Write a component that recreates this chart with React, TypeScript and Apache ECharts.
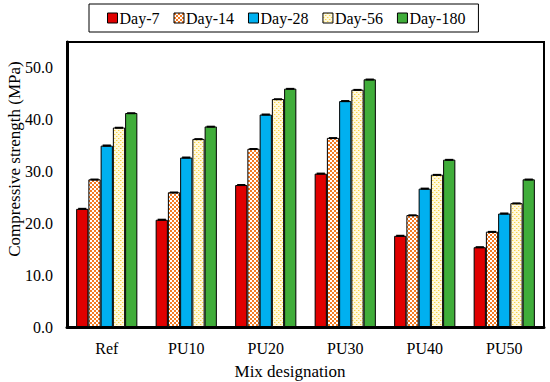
import React, { useEffect, useRef } from "react";
import * as echarts from "echarts";

const categories = ["Ref", "PU10", "PU20", "PU30", "PU40", "PU50"];
const seriesNames = ["Day-7", "Day-14", "Day-28", "Day-56", "Day-180"];
const day7 = [22.8, 20.7, 27.4, 29.6, 17.6, 15.4];
const day14 = [28.5, 26.0, 34.4, 36.5, 21.6, 18.4];
const day28 = [35.0, 32.7, 41.0, 43.6, 26.7, 21.9];
const day56 = [38.5, 36.3, 44.0, 45.8, 29.4, 23.9];
const day180 = [41.3, 38.7, 46.0, 47.8, 32.3, 28.5];
const err7 = [0.2, 0.2, 0.2, 0.2, 0.2, 0.2];
const err14 = [0.15, 0.15, 0.15, 0.15, 0.15, 0.15];
const err28 = [0.2, 0.2, 0.2, 0.2, 0.2, 0.2];
const err56 = [0.15, 0.15, 0.15, 0.15, 0.15, 0.15];
const err180 = [0.15, 0.15, 0.15, 0.15, 0.15, 0.15];
const yTicks = [0, 10, 20, 30, 40, 50];
const yTitle = "Compressive strength (MPa)";
const xTitle = "Mix designation";

const FONT = "Liberation Serif";
const GAP = 0.23;

function makeChecker(): HTMLCanvasElement {
  const c = document.createElement("canvas");
  c.width = 4;
  c.height = 4;
  const ctx = c.getContext("2d")!;
  ctx.fillStyle = "#ffffff";
  ctx.fillRect(0, 0, 4, 4);
  ctx.fillStyle = "#f47a22";
  ctx.fillRect(0, 0, 2, 2);
  ctx.fillRect(2, 2, 2, 2);
  return c;
}

function makeDots(): HTMLCanvasElement {
  const c = document.createElement("canvas");
  c.width = 4;
  c.height = 4;
  const ctx = c.getContext("2d")!;
  ctx.fillStyle = "#fff9dc";
  ctx.fillRect(0, 0, 4, 4);
  ctx.fillStyle = "#f7d34a";
  ctx.fillRect(0, 0, 1, 1);
  ctx.fillRect(2, 2, 1, 1);
  ctx.fillStyle = "#fbe9a0";
  ctx.fillRect(1, 0, 1, 1);
  ctx.fillRect(3, 2, 1, 1);
  return c;
}

export default function App() {
  const ref = useRef<HTMLDivElement>(null);
  useEffect(() => {
    if (!ref.current) return;
    const chart = echarts.init(ref.current, undefined, { renderer: "svg" });
    const values = [day7, day14, day28, day56, day180];
    const errs = [err7, err14, err28, err56, err180];
    const fills: any[] = [
      "#e00000",
      { image: makeChecker(), repeat: "repeat" },
      "#00b0f0",
      { image: makeDots(), repeat: "repeat" },
      "#40ad3a",
    ];
    const barSeries = values.map((v, i) => ({
      name: seriesNames[i],
      type: "bar",
      data: v,
      barGap: "0%",
      barCategoryGap: GAP * 100 + "%",
      itemStyle: { color: fills[i], borderColor: "#000", borderWidth: 1 },
    }));
    const errData: any[] = [];
    values.forEach((v, si) => {
      v.forEach((val, ci) => {
        errData.push([ci, val, errs[si][ci], si]);
      });
    });
    const errSeries = {
      type: "custom",
      name: "err",
      z: 10,
      data: errData,
      encode: { x: 0, y: 1 },
      renderItem: (params: any, api: any) => {
        const ci = api.value(0);
        const val = api.value(1);
        const e = api.value(2);
        const si = api.value(3);
        const band = api.size([1, 0])[0];
        const bw = (band * (1 - GAP)) / 5;
        const c = api.coord([ci, val]);
        const x0 = c[0] - (band * (1 - GAP)) / 2 + bw * si;
        const top = api.coord([ci, val + e])[1];
        const bot = api.coord([ci, val - e])[1];
        return {
          type: "rect",
          shape: { x: x0 + 2, y: top, width: bw - 4, height: Math.max(2, bot - top) },
          style: { fill: "#000" },
        };
      },
    };
    chart.setOption({
      animation: false,
      backgroundColor: "#fff",
      textStyle: { fontFamily: FONT },
      grid: {
        left: 67,
        right: 6,
        top: 42,
        bottom: 55,
        show: true,
        borderColor: "#000",
        borderWidth: 2,
        backgroundColor: "transparent",
        outerBoundsMode: "none",
        containLabel: false,
      },
      legend: {
        data: seriesNames.map((n) => ({ name: n, itemStyle: { borderColor: "#000", borderWidth: 1 } })),
        left: 89,
        top: 4,
        padding: [6, 13, 6, 18],
        itemGap: 14,
        itemWidth: 10,
        itemHeight: 10,
        icon: "rect",
        borderColor: "#000",
        borderWidth: 1,
        textStyle: { fontFamily: FONT, fontSize: 16, color: "#000", padding: [0, 0, 0, -3] },
      },
      graphic: [
        {
          type: "text",
          x: 14,
          y: 159,
          rotation: Math.PI / 2,
          style: {
            text: yTitle,
            fontFamily: FONT,
            fontSize: 17,
            fill: "#000",
            textAlign: "center",
            textVerticalAlign: "middle",
          },
        },
        {
          type: "text",
          x: 290,
          y: 371,
          style: {
            text: xTitle,
            fontFamily: FONT,
            fontSize: 17,
            fill: "#000",
            textAlign: "center",
            textVerticalAlign: "middle",
          },
        },
      ],
      xAxis: {
        type: "category",
        data: categories,
        axisLine: { show: true, lineStyle: { color: "#000", width: 3 } },
        axisTick: { show: false },
        axisLabel: { fontFamily: FONT, fontSize: 16, color: "#000", margin: 13 },
      },
      yAxis: {
        type: "value",
        min: 0,
        max: 55,
        interval: 10,
        axisLine: { show: true, lineStyle: { color: "#000", width: 3 } },
        axisTick: { show: false },
        splitLine: { show: false },
        axisLabel: {
          fontFamily: FONT,
          fontSize: 16,
          color: "#000",
          margin: 14,
          formatter: (v: number) => (yTicks.indexOf(v) >= 0 ? v.toFixed(1) : ""),
        },
      },
      series: [...barSeries, errSeries],
    } as any);
    return () => chart.dispose();
  }, []);
  return (
    <div
      ref={ref}
      style={{ position: "fixed", left: 0, top: 0, width: 550, height: 382 }}
    />
  );
}
